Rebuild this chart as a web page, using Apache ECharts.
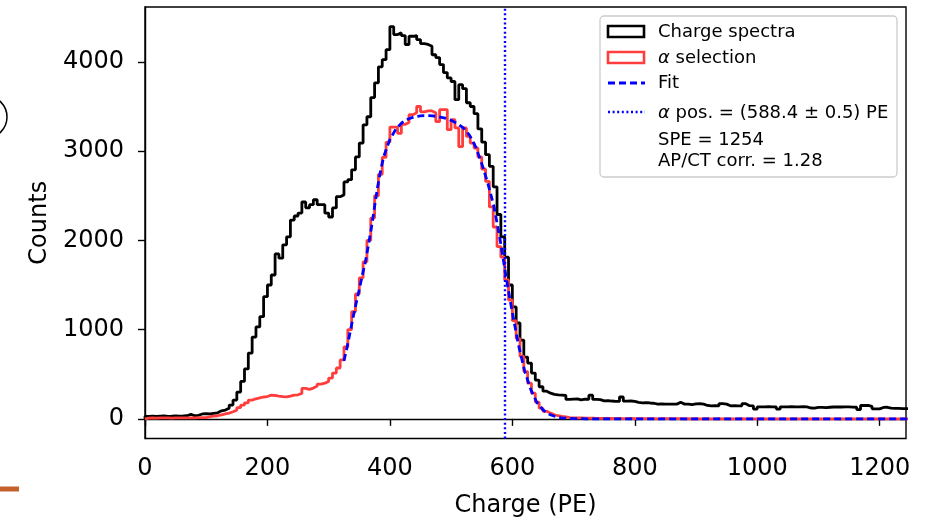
<!DOCTYPE html>
<html>
<head>
<meta charset="utf-8">
<script src="https://cdn.jsdelivr.net/npm/echarts@6/dist/echarts.min.js"></script>
<style>
html,body{margin:0;padding:0;background:#fff;}
#chart{width:930px;height:520px;}
</style>
</head>
<body>
<div id="chart"></div>
<script>
// ---- data ----
const BIN_WIDTH = 6.25; // PE per histogram bin, bins start at 0
const chargeCounts = [
  28, 30, 27, 30, 32, 28, 30, 33, 30, 32,
  35, 50, 35, 40, 55, 58, 55, 62, 68, 90,
  98, 120, 154, 210, 300, 420, 560, 737, 917, 1030,
  1145, 1369, 1500, 1612, 1848, 1800, 1950, 2040, 2228, 2273,
  2306, 2430, 2365, 2400, 2455, 2400, 2400, 2306, 2262, 2364,
  2490, 2510, 2655, 2680, 2790, 2935, 3090, 3295, 3385, 3600,
  3765, 3945, 4025, 4137, 4395, 4306, 4325, 4295, 4195, 4287,
  4295, 4250, 4205, 4195, 4175, 4080, 4048, 3970, 3880, 3820,
  3780, 3577, 3745, 3700, 3542, 3500, 3420, 3250, 3100, 2960,
  2830, 2600, 2290, 2040, 1812, 1500, 1254, 1074, 883, 692,
  625, 513, 434, 360, 310, 288, 275, 268, 266, 262,
  218, 222, 225, 213, 222, 220, 266, 218, 215, 202,
  205, 200, 196, 195, 245, 198, 200, 196, 185, 180,
  182, 178, 175, 165, 168, 165, 166, 165, 165, 185,
  165, 165, 160, 168, 170, 165, 150, 146, 148, 145,
  170, 165, 146, 148, 145, 146, 170, 148, 146, 110,
  135, 135, 137, 135, 133, 110, 135, 135, 136, 134,
  135, 136, 135, 122, 120, 128, 128, 126, 130, 133,
  135, 133, 135, 134, 132, 130, 104, 150, 150, 140,
  112, 112, 128, 130, 120, 118, 117, 115, 115, 115
];
const alphaCounts = [
  8, 10, 8, 10, 12, 10, 8, 10, 12, 10,
  10, 12, 12, 14, 15, 15, 25, 30, 35, 45,
  55, 65, 80, 98, 125, 154, 180, 210, 225, 235,
  245, 250, 266, 262, 255, 250, 247, 255, 266, 270,
  285, 341, 330, 345, 367, 390, 400, 420, 457, 513,
  570, 660, 805, 1000, 1200, 1400, 1580, 1760, 2000, 2250,
  2500, 2740, 2930, 3100, 3270, 3270, 3200, 3300, 3320, 3408,
  3430, 3500, 3440, 3450, 3450, 3430, 3330, 3465, 3465, 3240,
  3353, 3260, 3050, 3260, 3165, 3090, 3035, 2935, 2800, 2660,
  2375, 2150, 1930, 1812, 1556, 1332, 1100, 900, 700, 530,
  400, 288, 187, 120, 85, 64, 45, 35, 28, 22,
  15, 12, 10, 10, 8, 8, 7, 6, 6, 5,
  4, 5, 3, 4, 3, 2, 4, 3, 2, 3,
  2, 3, 2, 1, 3, 2, 2, 1, 2, 2,
  1, 2, 1, 2, 1, 1, 2, 1, 1, 2,
  1, 1, 0, 1, 1, 2, 1, 0, 1, 1,
  0, 1, 1, 0, 1, 0, 1, 1, 0, 1,
  0, 1, 0, 0, 1, 0, 1, 0, 0, 1,
  0, 0, 1, 0, 0, 1, 0, 0, 1, 0,
  0, 1, 0, 0, 0, 1, 0, 0, 1, 0
];
const fitCharge = [325, 330, 335, 340, 345, 350, 355, 360, 365, 370, 375, 380, 385, 390, 395, 400,
  410, 420, 430, 440, 450, 460, 470, 480, 490, 500, 510, 520, 530, 540, 550, 560, 570, 580, 590,
  600, 610, 620, 630, 640, 650, 660, 670, 680, 690, 700, 720, 760, 800, 900, 1000, 1100, 1200, 1250];
const fitCounts = [650, 800, 970, 1140, 1300, 1450, 1610, 1760, 1950, 2150, 2380, 2600, 2790, 2940, 3040, 3130,
  3250, 3320, 3360, 3385, 3395, 3398, 3395, 3385, 3370, 3345, 3310, 3260, 3180, 3050, 2860, 2640, 2380, 2010, 1580,
  1190, 830, 540, 330, 185, 100, 52, 26, 12, 6, 3, 1, 0, 0, 0, 0, 0, 0, 0];
const alphaPos = 588.4;
const xTicks = [0, 200, 400, 600, 800, 1000, 1200];
const yTicks = [0, 1000, 2000, 3000, 4000];
const xRange = [0, 1243];
const yRange = [-220, 4615];

// ---- build step-histogram point lists from the bin counts ----
function stepData(counts) {
  const d = [[0, 0]];
  counts.forEach((v, i) => d.push([i * BIN_WIDTH, v]));
  d.push([counts.length * BIN_WIDTH, counts[counts.length - 1]]);
  d.push([counts.length * BIN_WIDTH, 0]);
  return d;
}
const fitData = fitCharge.map((x, i) => [x, fitCounts[i]]);

const FONT = 'DejaVu Sans';
const RED = '#ff3d3d';
const LFONT = '18px "DejaVu Sans"';
const chart = echarts.init(document.getElementById('chart'), null, {renderer: 'canvas'});

const lx = 608, tx = 658;
const plain = v => String(v);
chart.setOption({
  animation: false,
  backgroundColor: '#ffffff',
  grid: {left: 145, top: 7, width: 761, height: 431.5, show: true, borderColor: '#000', borderWidth: 1.4,
    backgroundColor: 'transparent', containLabel: false, outerBoundsMode: 'none'},
  xAxis: {
    type: 'value', min: xRange[0], max: xRange[1],
    name: 'Charge (PE)', nameLocation: 'middle', nameGap: 55,
    nameTextStyle: {fontFamily: FONT, fontSize: 24, color: '#000'},
    axisLine: {show: true, lineStyle: {color: '#000', width: 1.4}},
    axisTick: {show: true, inside: false, length: 7, lineStyle: {color: '#000', width: 1.4}, customValues: xTicks},
    axisLabel: {fontFamily: FONT, fontSize: 24, color: '#000', margin: 18, customValues: xTicks, formatter: plain},
    splitLine: {show: false}
  },
  yAxis: {
    type: 'value', min: yRange[0], max: yRange[1],
    name: 'Counts', nameLocation: 'middle', nameGap: 91, nameRotate: 90,
    nameTextStyle: {fontFamily: FONT, fontSize: 24, color: '#000'},
    axisLine: {show: true, lineStyle: {color: '#000', width: 1.4}},
    axisTick: {show: true, inside: false, length: 7, lineStyle: {color: '#000', width: 1.4}, customValues: yTicks},
    axisLabel: {fontFamily: FONT, fontSize: 24, color: '#000', margin: 21, customValues: yTicks, formatter: plain},
    splitLine: {show: false}
  },
  series: [
    {name: 'Charge spectra', type: 'line', step: 'end', data: stepData(chargeCounts), symbol: 'none',
     lineStyle: {color: '#000', width: 2.8}, z: 2},
    {name: 'α selection', type: 'line', step: 'end', data: stepData(alphaCounts), symbol: 'none',
     lineStyle: {color: RED, width: 2.8}, z: 3},
    {name: 'Fit', type: 'line', data: fitData, symbol: 'none',
     lineStyle: {color: '#0000ff', width: 2.8, type: [7, 4]}, z: 4},
    {name: 'α pos.', type: 'line', data: [], symbol: 'none', z: 5,
     markLine: {silent: true, symbol: ['none', 'none'], label: {show: false},
       lineStyle: {color: '#0000ff', width: 2.4, type: [2, 2.6]},
       data: [{xAxis: alphaPos}]}}
  ],
  graphic: [
    // cropped slide remnants at the left edge
    {type: 'circle', shape: {cx: -14, cy: 117, r: 21}, style: {fill: 'none', stroke: '#000', lineWidth: 1.5}, silent: true},
    {type: 'rect', shape: {x: 0, y: 486.5, width: 19, height: 5}, style: {fill: '#c4602c'}, silent: true},
    // legend
    {type: 'group', z: 100, children: [
      {type: 'rect', shape: {x: 600, y: 16, width: 297, height: 161, r: 4}, style: {fill: 'rgba(255,255,255,0.8)', stroke: '#cccccc', lineWidth: 1.3}},
      {type: 'rect', shape: {x: lx, y: 26, width: 36, height: 11}, style: {fill: 'none', stroke: '#000', lineWidth: 2.6}},
      {type: 'rect', shape: {x: lx, y: 52, width: 36, height: 11}, style: {fill: 'none', stroke: RED, lineWidth: 2.6}},
      {type: 'line', shape: {x1: lx, y1: 83, x2: lx + 37, y2: 83}, style: {stroke: '#0000ff', lineWidth: 2.8, lineDash: [7, 4]}},
      {type: 'line', shape: {x1: lx, y1: 112, x2: lx + 37, y2: 112}, style: {stroke: '#0000ff', lineWidth: 2.4, lineDash: [2, 2.6]}},
      {type: 'text', x: tx, y: 32, style: {text: 'Charge spectra', font: LFONT, fill: '#000', verticalAlign: 'middle'}},
      {type: 'text', x: tx, y: 58, style: {text: '{i|α} selection', font: LFONT, fill: '#000', verticalAlign: 'middle',
        rich: {i: {fontStyle: 'italic', fontFamily: FONT, fontSize: 18}}}},
      {type: 'text', x: tx, y: 83, style: {text: 'Fit', font: LFONT, fill: '#000', verticalAlign: 'middle'}},
      {type: 'text', x: tx, y: 113, style: {text: '{i|α} pos. = (588.4 ± 0.5) PE', font: LFONT, fill: '#000', verticalAlign: 'middle',
        rich: {i: {fontStyle: 'italic', fontFamily: FONT, fontSize: 18}}}},
      {type: 'text', x: tx, y: 140, style: {text: 'SPE = 1254', font: LFONT, fill: '#000', verticalAlign: 'middle'}},
      {type: 'text', x: tx, y: 161, style: {text: 'AP/CT corr. = 1.28', font: LFONT, fill: '#000', verticalAlign: 'middle'}}
    ]}
  ]
});
</script>
</body>
</html>
